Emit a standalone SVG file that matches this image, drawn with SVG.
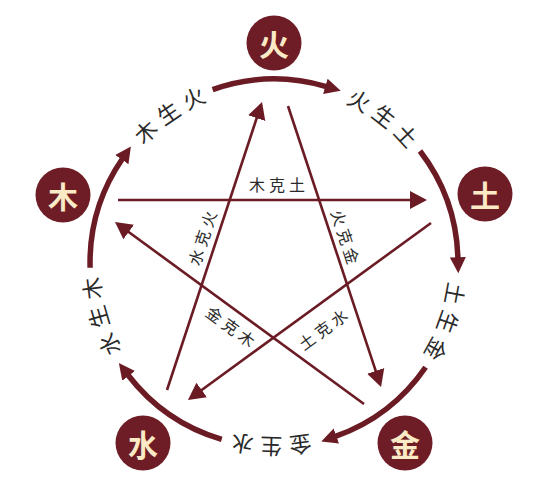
<svg xmlns="http://www.w3.org/2000/svg" xmlns:xlink="http://www.w3.org/1999/xlink" width="560" height="492" viewBox="0 0 560 492">
<style>
.arc{fill:none;stroke:#6b1b24;stroke-width:5.5;marker-end:url(#ah);}
.ln{fill:none;stroke:#6b1b24;stroke-width:2.6;marker-end:url(#sh);}
.nc{fill:#6e1c25;}
.nt{font-family:"Noto Sans CJK SC","Noto Sans CJK TC",sans-serif;font-weight:bold;font-size:30px;fill:#fbeac6;text-anchor:middle;dominant-baseline:central;}
.ol{font-family:"Noto Sans CJK SC","Noto Sans CJK TC",sans-serif;font-size:22px;fill:#2a2a2a;letter-spacing:6px;}
.sl{font-family:"Noto Sans CJK SC","Noto Sans CJK TC",sans-serif;font-size:16px;fill:#2a2a2a;letter-spacing:4px;text-anchor:middle;dominant-baseline:central;}
</style>
<defs>
<marker id="ah" markerUnits="userSpaceOnUse" viewBox="0 -10 20 20" markerWidth="20" markerHeight="20" refX="1" refY="0" orient="auto">
<path d="M0,-8 L16,0 L0,8 Z" fill="#6b1b24"/>
</marker>
<marker id="sh" markerUnits="userSpaceOnUse" viewBox="0 -10 20 20" markerWidth="20" markerHeight="20" refX="14" refY="0" orient="auto">
<path d="M0,-9 L17,0 L0,9 Z" fill="#6b1b24"/>
</marker>
<path id="tp" d="M99,263 A175,175 0 1 1 449,263 A175,175 0 1 1 99,263"/>
</defs>
<rect width="560" height="492" fill="#ffffff"/>
<g id="connectors">
<path class="arc" d="M212.6,89.6 A184,184 0 0 1 326.3,86.6"/>
<path class="arc" d="M420.0,151.0 A184,184 0 0 1 457.9,258.2"/>
<path class="arc" d="M425.6,367.2 A184,184 0 0 1 335.4,436.4"/>
<path class="arc" d="M221.7,439.4 A184,184 0 0 1 128.0,375.0"/>
<path class="arc" d="M90.1,267.8 A184,184 0 0 1 122.4,158.8"/>
<path class="ln" d="M118,200 L424,200"/>
<path class="ln" d="M288,106 L380.1,384.2"/>
<path class="ln" d="M431,223 L190.4,398.2"/>
<path class="ln" d="M364,404 L117.4,223.8"/>
<path class="ln" d="M167,390 L261.1,104.8"/>
</g>
<g id="outer-labels">
<text class="ol"><textPath xlink:href="#tp" href="#tp" startOffset="15.5%" text-anchor="middle">木生火</textPath></text>
<text class="ol"><textPath xlink:href="#tp" href="#tp" startOffset="35.5%" text-anchor="middle">火生土</textPath></text>
<text class="ol"><textPath xlink:href="#tp" href="#tp" startOffset="55.5%" text-anchor="middle">土生金</textPath></text>
<text class="ol"><textPath xlink:href="#tp" href="#tp" startOffset="75.5%" text-anchor="middle">金生水</textPath></text>
<text class="ol"><textPath xlink:href="#tp" href="#tp" startOffset="95.5%" text-anchor="middle">水生木</textPath></text>
</g>
<g id="star-labels">
<text class="sl" x="279" y="184">木克土</text>
<text class="sl" transform="translate(201.7,238) rotate(-71.7)" x="2" y="0">水克火</text>
<text class="sl" transform="translate(346,236.7) rotate(71.7)" x="2" y="0">火克金</text>
<text class="sl" transform="translate(231,326) rotate(36.2)" x="2" y="0">金克木</text>
<text class="sl" transform="translate(322.5,329) rotate(-36)" x="2" y="0">土克水</text>
</g>
<g id="node-huo"><circle class="nc" cx="274" cy="43" r="27.5"/><text class="nt" x="274" y="43">火</text></g>
<g id="node-tu"><circle class="nc" cx="485" cy="194" r="27.5"/><text class="nt" x="485" y="194">土</text></g>
<g id="node-jin"><circle class="nc" cx="405" cy="443" r="27.5"/><text class="nt" x="405" y="443">金</text></g>
<g id="node-shui"><circle class="nc" cx="143" cy="443" r="27.5"/><text class="nt" x="143" y="443">水</text></g>
<g id="node-mu"><circle class="nc" cx="63" cy="195" r="27.5"/><text class="nt" x="63" y="195">木</text></g>
</svg>
